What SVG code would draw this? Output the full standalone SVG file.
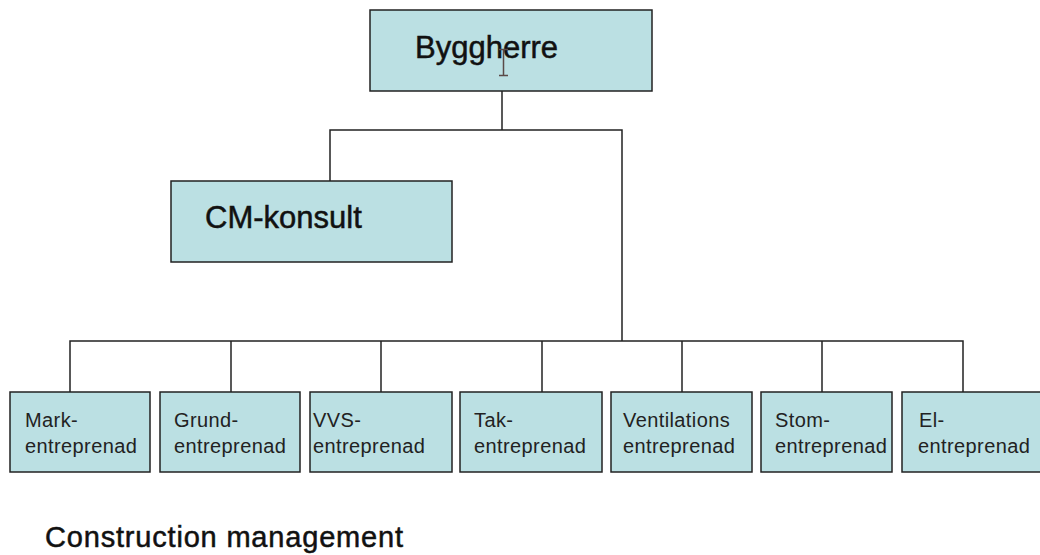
<svg xmlns="http://www.w3.org/2000/svg" width="1040" height="555" viewBox="0 0 1040 555">
  <style>
    .box { fill: #bbe0e3; stroke: #222; stroke-width: 1.5; }
    .wire { fill: none; stroke: #222; stroke-width: 1.5; }
    .big { font-family: "Liberation Sans", Arial, sans-serif; font-size: 31px; fill: #111; stroke: #111; stroke-width: 0.5px; }
    .small { font-family: "Liberation Sans", Arial, sans-serif; font-size: 20px; letter-spacing: 0.4px; fill: #222; }
    .title { font-family: "Liberation Sans", Arial, sans-serif; font-size: 29px; fill: #111; stroke: #111; stroke-width: 0.5px; }
  </style>
  <rect width="1040" height="555" fill="#fff"/>

  <!-- connectors -->
  <g id="connectors" class="wire">
    <path d="M502 91 V130"/>
    <path d="M330 181 V130 H622 V341"/>
    <path d="M70 392 V341 H963 V392"/>
    <path d="M231 341 V392"/>
    <path d="M381 341 V392"/>
    <path d="M542 341 V392"/>
    <path d="M682 341 V392"/>
    <path d="M822 341 V392"/>
  </g>

  <g id="byggherre">
    <rect class="box" x="370" y="10" width="282" height="81"/>
    <text class="big" x="415" y="58">Byggherre</text>
    <!-- text cursor -->
    <path d="M499 49.5 H508 M503.5 49.5 V75.5 M499 75.5 H508" fill="none" stroke="#5a4a48" stroke-width="1.5"/>
  </g>

  <g id="cm-konsult">
    <rect class="box" x="171" y="181" width="281" height="81"/>
    <text class="big" x="205" y="228">CM-konsult</text>
  </g>

  <g id="mark">
    <rect class="box" x="10" y="392" width="140" height="80"/>
    <text class="small" x="25" y="427">Mark-</text>
    <text class="small" x="25" y="453">entreprenad</text>
  </g>
  <g id="grund">
    <rect class="box" x="160" y="392" width="140" height="80"/>
    <text class="small" x="174" y="427">Grund-</text>
    <text class="small" x="174" y="453">entreprenad</text>
  </g>
  <g id="vvs">
    <rect class="box" x="310" y="392" width="142" height="80"/>
    <text class="small" x="313" y="427">VVS-</text>
    <text class="small" x="313" y="453">entreprenad</text>
  </g>
  <g id="tak">
    <rect class="box" x="460" y="392" width="142" height="80"/>
    <text class="small" x="474" y="427">Tak-</text>
    <text class="small" x="474" y="453">entreprenad</text>
  </g>
  <g id="ventilations">
    <rect class="box" x="611" y="392" width="141" height="80"/>
    <text class="small" x="623" y="427">Ventilations</text>
    <text class="small" x="623" y="453">entreprenad</text>
  </g>
  <g id="stom">
    <rect class="box" x="761" y="392" width="131" height="80"/>
    <text class="small" x="775" y="427">Stom-</text>
    <text class="small" x="775" y="453">entreprenad</text>
  </g>
  <g id="el">
    <rect class="box" x="902" y="392" width="142" height="80"/>
    <text class="small" x="919" y="427">El-</text>
    <text class="small" x="918" y="453">entreprenad</text>
  </g>

  <text class="title" x="45" y="547" textLength="358">Construction management</text>
</svg>
